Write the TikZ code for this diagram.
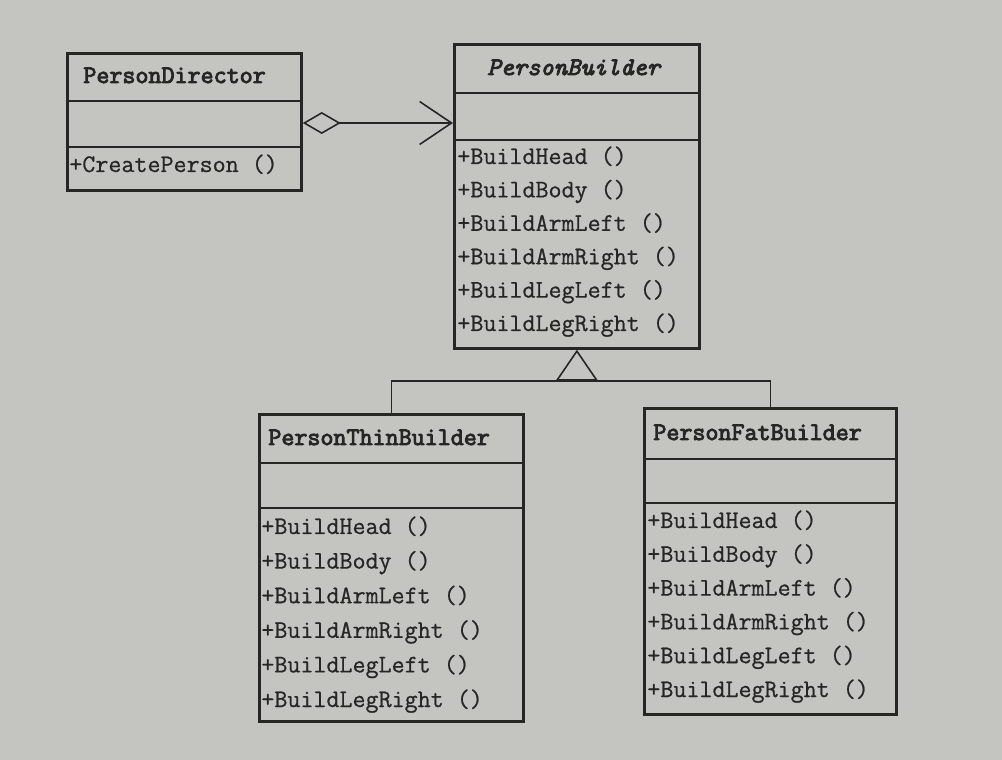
\documentclass[tikz,border=0pt]{standalone}
\usepackage{fontspec}
\usetikzlibrary{arrows.meta,positioning}

\newfontfamily\titlefont[FakeBold=3.5]{Latin Modern Mono}
\newfontfamily\memberfont[FakeBold=0.7]{Latin Modern Mono}

\definecolor{paper}{RGB}{196,196,193}
\definecolor{ink}{RGB}{38,38,38}

\tikzset{
  classbox/.style={draw=ink, line width=1.6pt, anchor=north west, inner sep=0pt},
  divider/.style={draw=ink, line width=1.4pt},
  title/.style={anchor=base west, inner sep=0pt, text=ink, font=\fontsize{14.4}{16}\titlefont},
  member/.style={anchor=base west, inner sep=0pt, text=ink, font=\fontsize{14.4}{16}\memberfont}
  ,link/.style={draw=ink, line width=0.9pt}
}

\begin{document}
\begin{tikzpicture}[x=0.02cm,y=-0.02cm]

    % --- background (photo paper) ---
    \fill[paper] (0,0) rectangle (1002,760);
    \useasboundingbox (0,0) rectangle (1002,760);

    % --- PersonDirector ---
    \node[classbox, minimum width=4.68cm, minimum height=2.74cm] (director) at (66,52) {};
    \draw[divider] (director.west |- 0,101) -- (director.east |- 0,101);
    \draw[divider] (director.west |- 0,147) -- (director.east |- 0,147);
    \node[title] (director-name) at (83,83) {PersonDirector};
    \node[member] (director-m0) at (69,172) {+CreatePerson ()};

    % --- PersonBuilder (abstract) ---
    \node[classbox, minimum width=4.9cm, minimum height=6.08cm] (builder) at (453,43) {};
    \draw[divider] (builder.west |- 0,93) -- (builder.east |- 0,93);
    \draw[divider] (builder.west |- 0,140) -- (builder.east |- 0,140);
    \node[title, font=\fontsize{14.4}{16}\titlefont\itshape] (builder-name) at (487,75) {PersonBuilder};
    \foreach \m [count=\i from 0] in {BuildHead,BuildBody,BuildArmLeft,BuildArmRight,BuildLegLeft,BuildLegRight}
        \node[member] (builder-m\i) at (457,164+33.4*\i) {+\m\ ()};

    % --- PersonThinBuilder ---
    \node[classbox, minimum width=5.28cm, minimum height=6.14cm] (thin) at (258,413) {};
    \draw[divider] (thin.west |- 0,463) -- (thin.east |- 0,463);
    \draw[divider] (thin.west |- 0,508) -- (thin.east |- 0,508);
    \node[title] (thin-name) at (268,445) {PersonThinBuilder};
    \foreach \m [count=\i from 0] in {BuildHead,BuildBody,BuildArmLeft,BuildArmRight,BuildLegLeft,BuildLegRight}
        \node[member] (thin-m\i) at (261,534+34.6*\i) {+\m\ ()};

    % --- PersonFatBuilder ---
    \node[classbox, minimum width=5.04cm, minimum height=6.12cm] (fat) at (643,407) {};
    \draw[divider] (fat.west |- 0,459) -- (fat.east |- 0,459);
    \draw[divider] (fat.west |- 0,503) -- (fat.east |- 0,503);
    \node[title] (fat-name) at (653,440) {PersonFatBuilder};
    \foreach \m [count=\i from 0] in {BuildHead,BuildBody,BuildArmLeft,BuildArmRight,BuildLegLeft,BuildLegRight}
        \node[member] (fat-m\i) at (647,528+33.8*\i) {+\m\ ()};

    % --- aggregation: director holds a builder ---
    \draw[link, {Diamond[open, length=0.76cm, width=0.44cm]}-{Straight Barb[length=0.64cm, width=0.86cm]}]
        (director.east |- 0,123) -- (builder.west |- 0,123);

    % --- generalisation ---
    \coordinate (joint) at (builder.south |- 0,381);
    \draw[link] (thin.north) |- (joint) -| (fat.north);
    \draw[link, -{Triangle[open, length=0.62cm, width=0.84cm]}] (joint) -- (builder.south);

\end{tikzpicture}
\end{document}
